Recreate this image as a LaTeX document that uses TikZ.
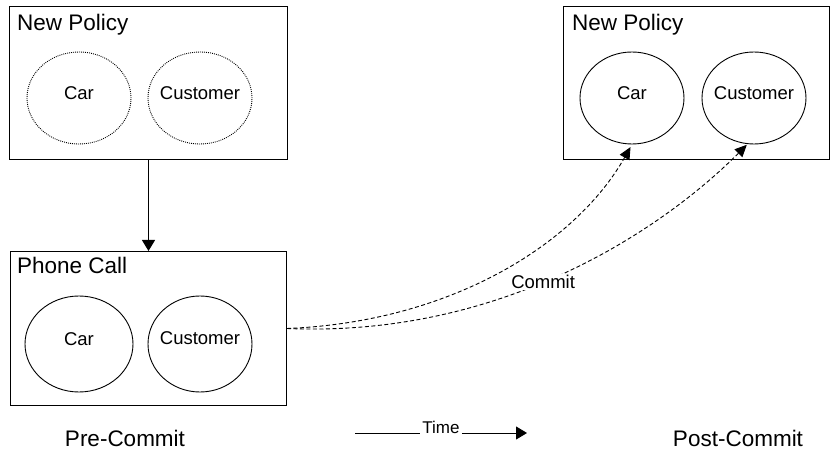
\documentclass[tikz,border=0pt]{standalone}
\usepackage{fontspec}
\setmainfont{Liberation Sans}
\usetikzlibrary{shapes.geometric,arrows.meta}
\begin{document}
\begin{tikzpicture}[x=1pt,y=-1pt,
  frame/.style={draw, line width=1pt, rectangle, inner sep=0pt, anchor=north west},
  title/.style={font=\fontsize{22.5}{26}\selectfont, inner sep=0pt, anchor=base west},
  lbl/.style={font=\fontsize{18.5}{22}\selectfont, inner sep=0pt},
  ellsolid/.style={draw, ellipse, line width=0.9pt, inner sep=0pt},
  elldotted/.style={ellsolid, dash pattern=on 0.9pt off 1.1pt},
  solidarr/.style={line width=1pt, -{Triangle[length=11pt,width=13pt]}},
  commitarr/.style={line width=0.9pt, dash pattern=on 4pt off 2.5pt,
    -{Triangle[length=12pt,width=11pt]}}]
\useasboundingbox (0,0) rectangle (831,457);

% before the commit: new policy with tentative objects
\node[frame, minimum width=278pt, minimum height=153pt] (np1) at (9,6) {};
\node[title] (np1t) at (17,31) {New Policy};
\node[elldotted, minimum width=104pt, minimum height=92pt] (car1) at (79,98) {};
\node[lbl] (car1t) at ([yshift=5pt]car1.center) {Car};
\node[elldotted, minimum width=104pt, minimum height=92pt] (cust1) at (200,98) {};
\node[lbl] (cust1t) at ([yshift=5pt]cust1.center) {Customer};

% phone call that holds the objects
\node[frame, minimum width=276pt, minimum height=154pt] (pc) at (10,251) {};
\node[title] (pct) at (17,274) {Phone Call};
\node[ellsolid, minimum width=108pt, minimum height=96pt] (car2) at (79,344) {};
\node[lbl] (car2t) at ([yshift=5pt]car2.center) {Car};
\node[ellsolid, minimum width=104pt, minimum height=96pt] (cust2) at (200,344) {};
\node[lbl] (cust2t) at ([yshift=6pt]cust2.center) {Customer};

\draw[solidarr] (np1.south) -- (pc.north);

% after the commit
\node[frame, minimum width=266pt, minimum height=153pt] (np2) at (563,6) {};
\node[title] (np2t) at (572,31) {New Policy};
\node[ellsolid, minimum width=104pt, minimum height=92pt] (car3) at (632,98) {};
\node[lbl] (car3t) at ([yshift=5pt]car3.center) {Car};
\node[ellsolid, minimum width=104pt, minimum height=92pt] (cust3) at (754,98) {};
\node[lbl] (cust3t) at ([yshift=5pt]cust3.center) {Customer};

% commit connectors
\draw[commitarr, shorten >=1pt] (pc.east) .. controls (510,338) and (670,222) .. (cust3.262)
  node[pos=0.44, lbl, fill=white, inner sep=1pt] (commit) {Commit};
\draw[commitarr, shorten >=3pt] (pc.east) .. controls (450,322) and (575,245) .. (car3.south);

% time axis and phase captions
\node[title, anchor=center] (pre) at (125,438) {Pre-Commit};
\node[title, anchor=center] (post) at (738,438) {Post-Commit};
\node[font=\fontsize{17}{20}\selectfont, inner sep=2pt, anchor=base] (time) at (441,433) {Time};
\coordinate (t0) at (355,433);
\coordinate (t1) at (527,433);
\draw[line width=1pt] (t0) -- (time.west |- t0);
\draw[solidarr] (time.east |- t0) -- (t1);
\end{tikzpicture}
\end{document}
